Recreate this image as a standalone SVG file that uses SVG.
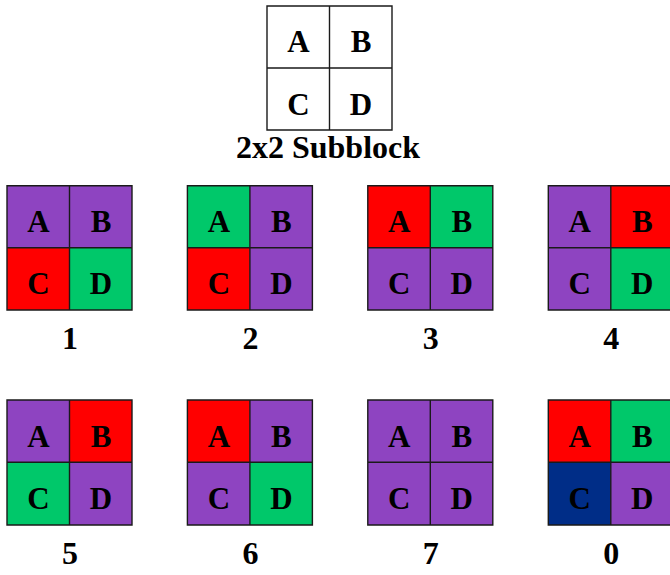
<svg xmlns="http://www.w3.org/2000/svg" width="670" height="575" viewBox="0 0 670 575">
<style>
text{font-family:"Liberation Serif","Times New Roman",serif;font-weight:bold;fill:#000;text-anchor:middle}
.l{font-size:31px}
.n{font-size:32px}
.p{fill:#8E44C1}.g{fill:#00C86A}.r{fill:#FF0000}.b{fill:#002D87}.w{fill:#fff}
.grid{fill:none;stroke:#1a1a1a;stroke-width:1.4}
</style>
<rect width="670" height="575" fill="#fff"/>
<g id="legend">
<rect class="w" x="267" y="6" width="125" height="124"/>
<path class="grid" d="M267 6H392V130H267Z M329.5 6V130 M267 68H392"/>
<text class="l" x="298.5" y="52">A</text><text class="l" x="361" y="52">B</text>
<text class="l" x="298.5" y="115">C</text><text class="l" x="361" y="115">D</text>
<text class="n" x="328" y="158">2x2 Subblock</text>
</g>
<g id="b1" transform="translate(7,185.7)">
<rect class="p" width="62.5" height="62"/><rect class="p" x="62.5" width="62.5" height="62"/>
<rect class="r" y="62" width="62.5" height="62.3"/><rect class="g" x="62.5" y="62" width="62.5" height="62.3"/>
<path class="grid" d="M0 0H125V124.3H0Z M62.5 0V124.3 M0 62H125"/>
<text class="l" x="31.5" y="46">A</text><text class="l" x="94" y="46">B</text>
<text class="l" x="31.5" y="108.5">C</text><text class="l" x="94" y="108.5">D</text>
<text class="n" x="63" y="163">1</text>
</g>
<g id="b2" transform="translate(187.4,185.7)">
<rect class="g" width="62.5" height="62"/><rect class="p" x="62.5" width="62.5" height="62"/>
<rect class="r" y="62" width="62.5" height="62.3"/><rect class="p" x="62.5" y="62" width="62.5" height="62.3"/>
<path class="grid" d="M0 0H125V124.3H0Z M62.5 0V124.3 M0 62H125"/>
<text class="l" x="31.5" y="46">A</text><text class="l" x="94" y="46">B</text>
<text class="l" x="31.5" y="108.5">C</text><text class="l" x="94" y="108.5">D</text>
<text class="n" x="63" y="163">2</text>
</g>
<g id="b3" transform="translate(367.8,185.7)">
<rect class="r" width="62.5" height="62"/><rect class="g" x="62.5" width="62.5" height="62"/>
<rect class="p" y="62" width="62.5" height="62.3"/><rect class="p" x="62.5" y="62" width="62.5" height="62.3"/>
<path class="grid" d="M0 0H125V124.3H0Z M62.5 0V124.3 M0 62H125"/>
<text class="l" x="31.5" y="46">A</text><text class="l" x="94" y="46">B</text>
<text class="l" x="31.5" y="108.5">C</text><text class="l" x="94" y="108.5">D</text>
<text class="n" x="63" y="163">3</text>
</g>
<g id="b4" transform="translate(548.3,185.7)">
<rect class="p" width="62.5" height="62"/><rect class="r" x="62.5" width="62.5" height="62"/>
<rect class="p" y="62" width="62.5" height="62.3"/><rect class="g" x="62.5" y="62" width="62.5" height="62.3"/>
<path class="grid" d="M0 0H125V124.3H0Z M62.5 0V124.3 M0 62H125"/>
<text class="l" x="31.5" y="46">A</text><text class="l" x="94" y="46">B</text>
<text class="l" x="31.5" y="108.5">C</text><text class="l" x="94" y="108.5">D</text>
<text class="n" x="63" y="163">4</text>
</g>
<g id="b5" transform="translate(7,400)">
<rect class="p" width="62.5" height="62.3"/><rect class="r" x="62.5" width="62.5" height="62.3"/>
<rect class="g" y="62.3" width="62.5" height="62.7"/><rect class="p" x="62.5" y="62.3" width="62.5" height="62.7"/>
<path class="grid" d="M0 0H125V125H0Z M62.5 0V125 M0 62.3H125"/>
<text class="l" x="31.5" y="46.5">A</text><text class="l" x="94" y="46.5">B</text>
<text class="l" x="31.5" y="109">C</text><text class="l" x="94" y="109">D</text>
<text class="n" x="63" y="164">5</text>
</g>
<g id="b6" transform="translate(187.4,400)">
<rect class="r" width="62.5" height="62.3"/><rect class="p" x="62.5" width="62.5" height="62.3"/>
<rect class="p" y="62.3" width="62.5" height="62.7"/><rect class="g" x="62.5" y="62.3" width="62.5" height="62.7"/>
<path class="grid" d="M0 0H125V125H0Z M62.5 0V125 M0 62.3H125"/>
<text class="l" x="31.5" y="46.5">A</text><text class="l" x="94" y="46.5">B</text>
<text class="l" x="31.5" y="109">C</text><text class="l" x="94" y="109">D</text>
<text class="n" x="63" y="164">6</text>
</g>
<g id="b7" transform="translate(367.8,400)">
<rect class="p" width="125" height="125"/>
<path class="grid" d="M0 0H125V125H0Z M62.5 0V125 M0 62.3H125"/>
<text class="l" x="31.5" y="46.5">A</text><text class="l" x="94" y="46.5">B</text>
<text class="l" x="31.5" y="109">C</text><text class="l" x="94" y="109">D</text>
<text class="n" x="63" y="164">7</text>
</g>
<g id="b0" transform="translate(548.3,400)">
<rect class="r" width="62.5" height="62.3"/><rect class="g" x="62.5" width="62.5" height="62.3"/>
<rect class="b" y="62.3" width="62.5" height="62.7"/><rect class="p" x="62.5" y="62.3" width="62.5" height="62.7"/>
<path class="grid" d="M0 0H125V125H0Z M62.5 0V125 M0 62.3H125"/>
<text class="l" x="31.5" y="46.5">A</text><text class="l" x="94" y="46.5">B</text>
<text class="l" x="31.5" y="109">C</text><text class="l" x="94" y="109">D</text>
<text class="n" x="63" y="164">0</text>
</g>
<g id="connectors"/>
</svg>
